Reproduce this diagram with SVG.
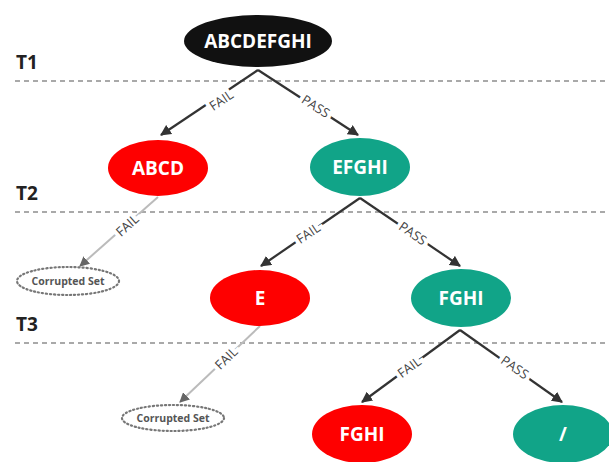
<svg xmlns="http://www.w3.org/2000/svg" width="609" height="462" viewBox="0 0 609 462">
<style>
.lvl{font-family:"Open Sans","Noto Sans",sans-serif;font-weight:700;font-size:19px;fill:#222}
.sep{stroke:#555;stroke-width:1.2;stroke-dasharray:5,4}
.nt{font-family:"Open Sans","Noto Sans",sans-serif;font-weight:700;font-size:19px;fill:#fff;text-anchor:middle;dominant-baseline:central}
.red{fill:#fe0000}
.grn{fill:#11a488}
.blk{fill:#111}
.cs{fill:#fff;stroke:#777;stroke-width:2.2;stroke-dasharray:1.2,2.8;stroke-linecap:round}
.cst{font-family:"Open Sans","Noto Sans",sans-serif;font-weight:700;font-size:10.5px;fill:#555;text-anchor:middle;dominant-baseline:central}
.e{stroke:#333;stroke-width:2.2;fill:none;marker-end:url(#ah)}
.eg{stroke:#bbb;stroke-width:2;fill:none;marker-end:url(#ahg)}
.el{font-family:"Open Sans","Noto Sans",sans-serif;font-size:13px;fill:#444;text-anchor:middle;dominant-baseline:central;stroke:#fff;stroke-width:8;paint-order:stroke}
</style>
<defs>
<marker id="ah" viewBox="0 0 10 10" refX="9" refY="5" markerWidth="5" markerHeight="5" orient="auto" markerUnits="strokeWidth"><path d="M0,0 L10,5 L0,10 z" fill="#333"/></marker>
<marker id="ahg" viewBox="0 0 10 10" refX="9" refY="5" markerWidth="5" markerHeight="5" orient="auto" markerUnits="strokeWidth"><path d="M0,0 L10,5 L0,10 z" fill="#666"/></marker>
</defs>
<rect width="609" height="462" fill="#fff"/>
<g id="levels">
<text class="lvl" x="16" y="69">T1</text>
<line class="sep" x1="15" y1="81" x2="609" y2="81"/>
<text class="lvl" x="16" y="200">T2</text>
<line class="sep" x1="15" y1="212" x2="609" y2="212"/>
<text class="lvl" x="16" y="331">T3</text>
<line class="sep" x1="15" y1="343" x2="609" y2="343"/>
</g>
<g id="connectors">
<path class="e" d="M258,70 L161,135"/>
<path class="e" d="M258,70 L358,135"/>
<path class="eg" d="M158,197 L80,266"/>
<path class="e" d="M360,198 L261,266"/>
<path class="e" d="M360,198 L460,266"/>
<path class="eg" d="M260,326 L180,402"/>
<path class="e" d="M460,330 L362,402"/>
<path class="e" d="M460,330 L562,402"/>
<text class="el" transform="translate(221,100) rotate(-34)">FAIL</text>
<text class="el" transform="translate(316,106) rotate(33)">PASS</text>
<text class="el" transform="translate(127,225) rotate(-42)">FAIL</text>
<text class="el" transform="translate(308,233) rotate(-34)">FAIL</text>
<text class="el" transform="translate(413,233) rotate(34)">PASS</text>
<text class="el" transform="translate(226,358) rotate(-44)">FAIL</text>
<text class="el" transform="translate(409,367) rotate(-36)">FAIL</text>
<text class="el" transform="translate(515,367) rotate(35)">PASS</text>
</g>
<g id="n-root"><ellipse class="blk" cx="258" cy="41" rx="74" ry="26"/><text class="nt" x="258" y="41">ABCDEFGHI</text></g>
<g id="n-abcd"><ellipse class="red" cx="158" cy="168" rx="50" ry="28"/><text class="nt" x="158" y="168">ABCD</text></g>
<g id="n-efghi"><ellipse class="grn" cx="360" cy="167" rx="50" ry="29"/><text class="nt" x="360" y="167">EFGHI</text></g>
<g id="n-cs1"><ellipse class="cs" cx="68" cy="281" rx="51" ry="14"/><text class="cst" x="68" y="281">Corrupted Set</text></g>
<g id="n-e"><ellipse class="red" cx="260" cy="298" rx="50" ry="28"/><text class="nt" x="260" y="298">E</text></g>
<g id="n-fghi"><ellipse class="grn" cx="461" cy="298" rx="50" ry="29"/><text class="nt" x="461" y="298">FGHI</text></g>
<g id="n-cs2"><ellipse class="cs" cx="173" cy="418" rx="51" ry="13"/><text class="cst" x="173" y="418">Corrupted Set</text></g>
<g id="n-fghi2"><ellipse class="red" cx="362" cy="434" rx="50" ry="29"/><text class="nt" x="362" y="434">FGHI</text></g>
<g id="n-empty"><ellipse class="grn" cx="563" cy="434" rx="50" ry="29"/><text class="nt" x="563" y="434">/</text></g>
</svg>
